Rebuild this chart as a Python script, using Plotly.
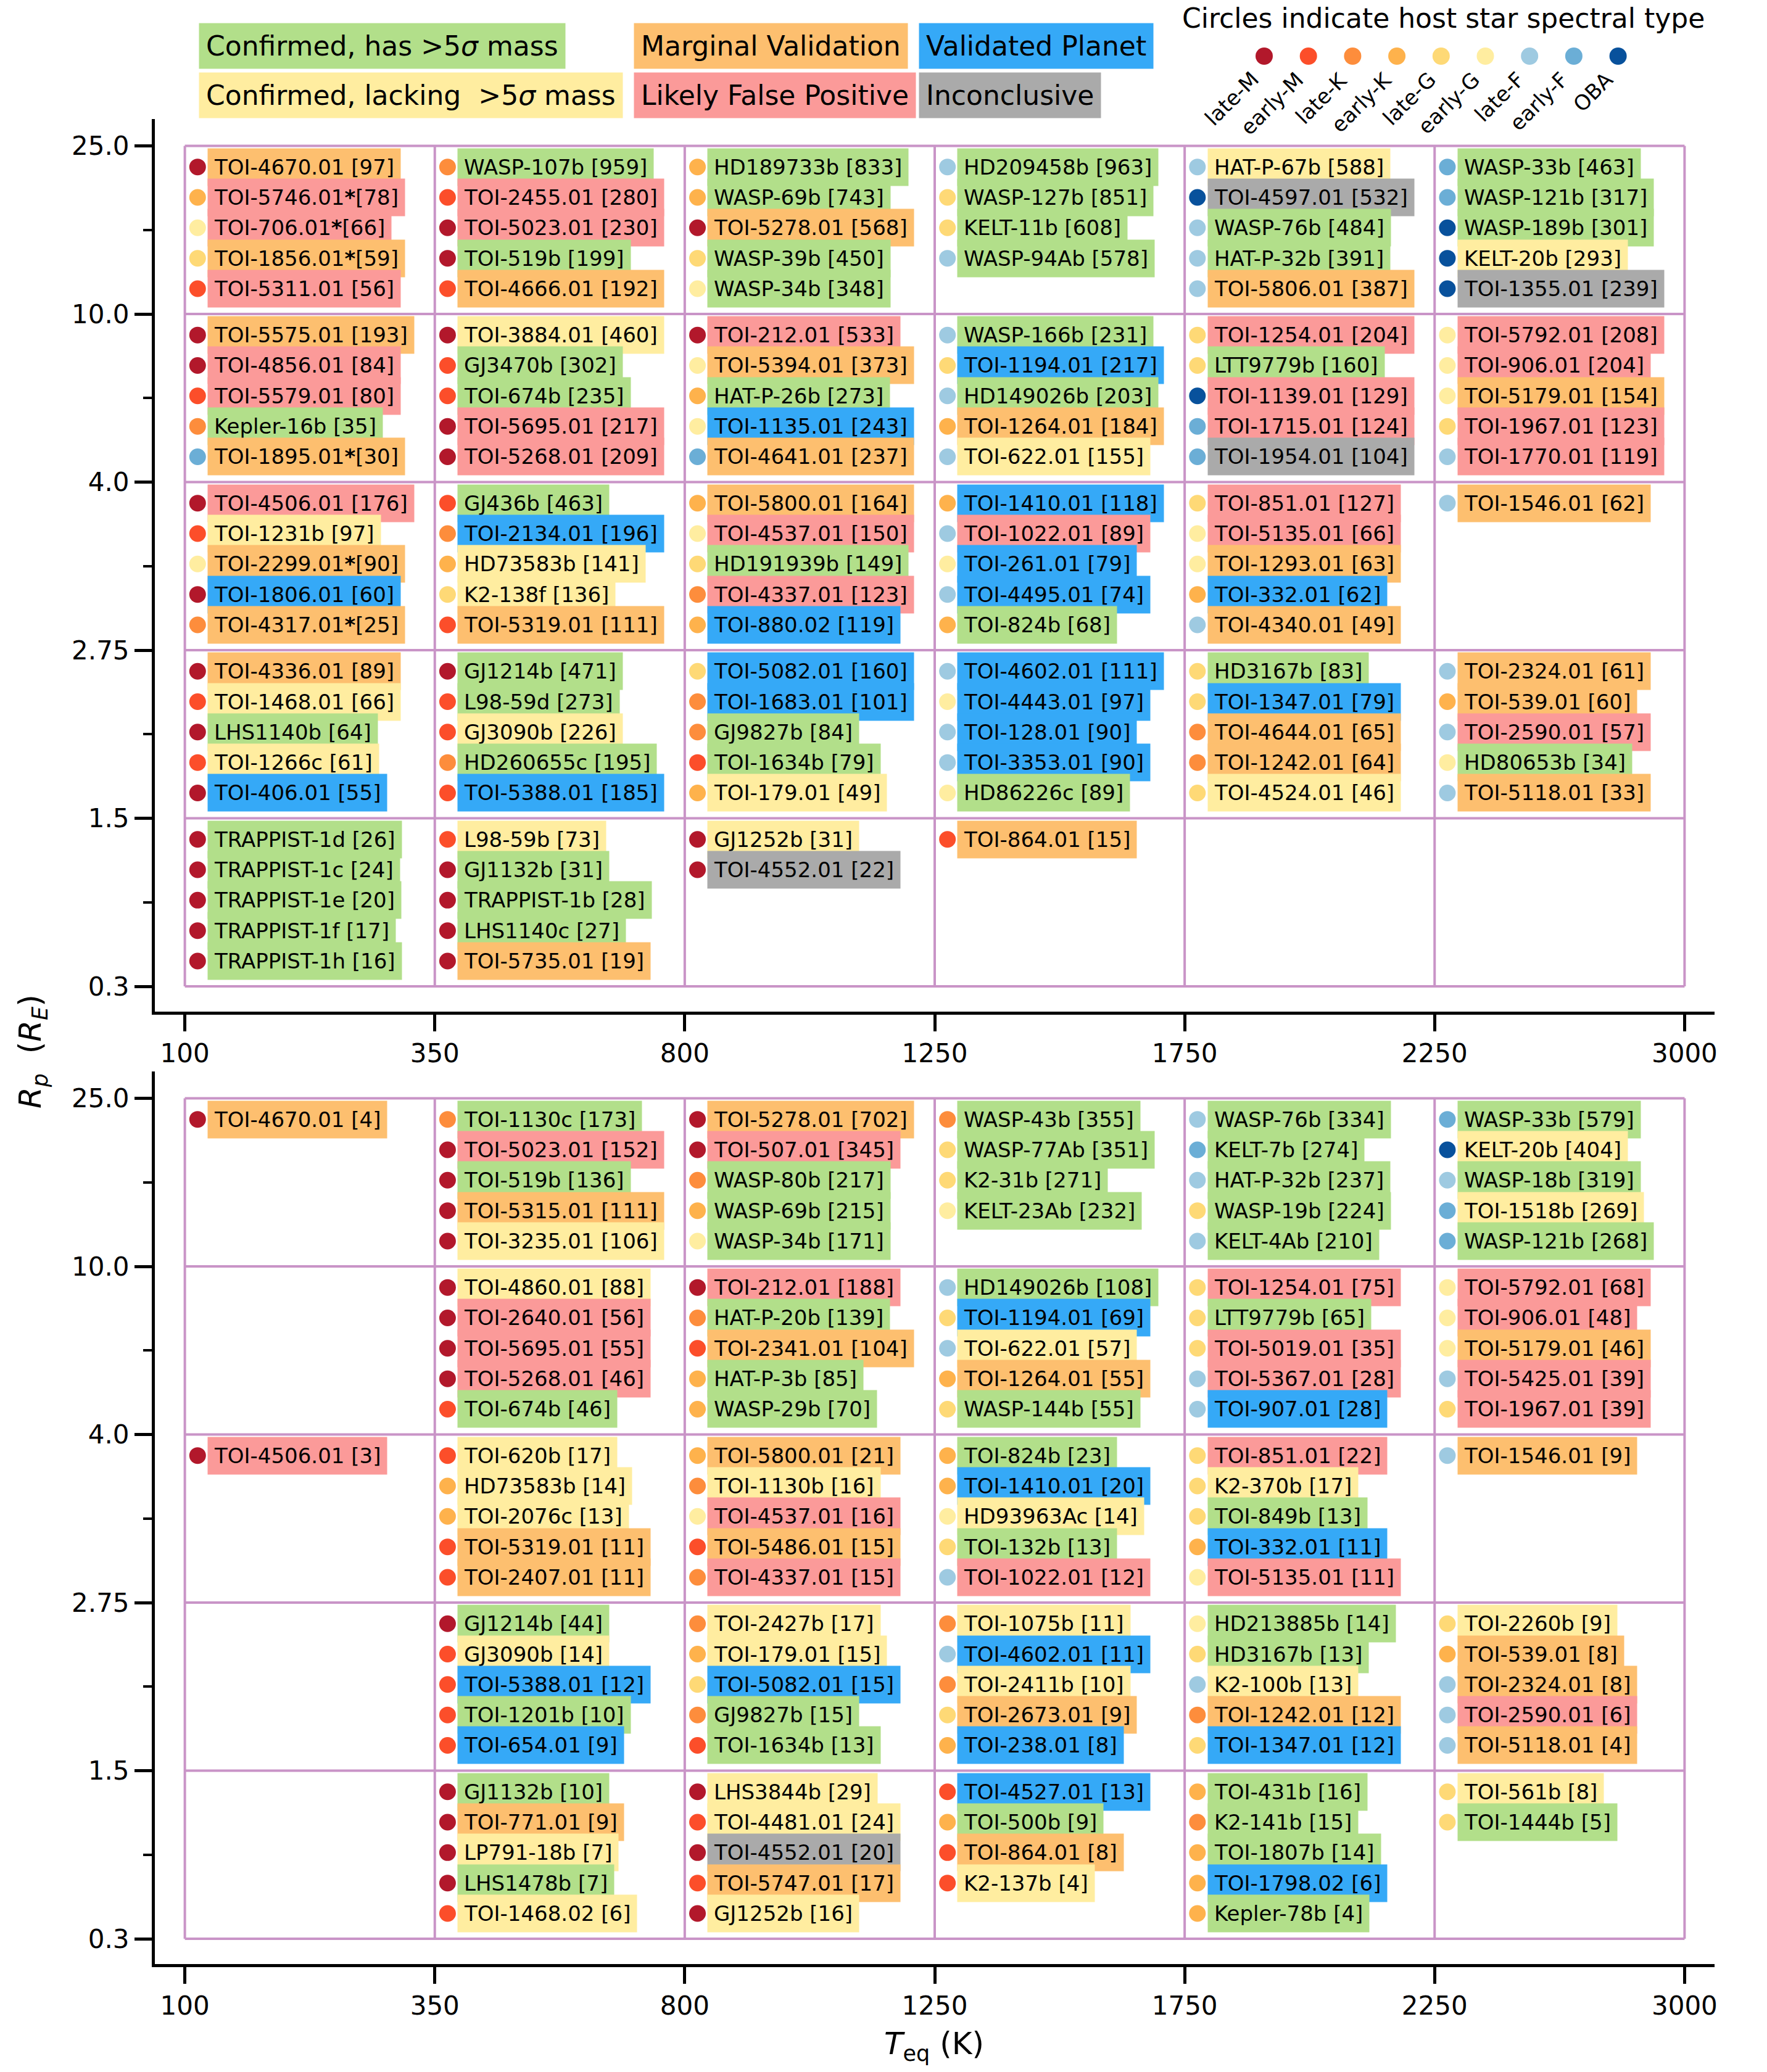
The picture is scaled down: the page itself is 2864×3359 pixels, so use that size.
import plotly.graph_objects as go

#%% bins and keys

TEQ_EDGES = [100, 350, 800, 1250, 1750, 2250, 3000]
RP_EDGES = [0.3, 1.5, 2.75, 4.0, 10.0, 25.0]
RP_LABELS = ["0.3", "1.5", "2.75", "4.0", "10.0", "25.0"]

STAR_CODES = ["lM", "eM", "lK", "eK", "lG", "eG", "lF", "eF", "OBA"]
STAR_LABELS = ["late-M", "early-M", "late-K", "early-K", "late-G", "early-G", "late-F", "early-F", "OBA"]
STAR_COLORS = ["#b2182b", "#fc4e2a", "#fd8d3c", "#feb24c", "#fed976", "#ffeda0", "#9ecae1", "#6baed6", "#08519c"]

STATUS_CODES = ["C", "L", "M", "F", "V", "I"]
STATUS_LABELS = ["Confirmed, has &gt;5<i>σ</i> mass", "Confirmed, lacking  &gt;5<i>σ</i> mass",
                 "Marginal Validation", "Likely False Positive", "Validated Planet", "Inconclusive"]
STATUS_COLORS = ["#b2df8a", "#ffeda0", "#fdbf6f", "#fb9a99", "#35a9f7", "#aaaaaa"]

#%% top panel

TOP_CELLS = [(100, 10.0), (100, 4.0), (100, 2.75), (100, 1.5), (100, 0.3),
             (350, 10.0), (350, 4.0), (350, 2.75), (350, 1.5), (350, 0.3),
             (800, 10.0), (800, 4.0), (800, 2.75), (800, 1.5), (800, 0.3),
             (1250, 10.0), (1250, 4.0), (1250, 2.75), (1250, 1.5), (1250, 0.3),
             (1750, 10.0), (1750, 4.0), (1750, 2.75), (1750, 1.5),
             (2250, 10.0), (2250, 4.0), (2250, 2.75), (2250, 1.5)]
TOP_NAMES = [
    ["TOI-4670.01", "TOI-5746.01*", "TOI-706.01*", "TOI-1856.01*", "TOI-5311.01"],
    ["TOI-5575.01", "TOI-4856.01", "TOI-5579.01", "Kepler-16b", "TOI-1895.01*"],
    ["TOI-4506.01", "TOI-1231b", "TOI-2299.01*", "TOI-1806.01", "TOI-4317.01*"],
    ["TOI-4336.01", "TOI-1468.01", "LHS1140b", "TOI-1266c", "TOI-406.01"],
    ["TRAPPIST-1d", "TRAPPIST-1c", "TRAPPIST-1e", "TRAPPIST-1f", "TRAPPIST-1h"],
    ["WASP-107b", "TOI-2455.01", "TOI-5023.01", "TOI-519b", "TOI-4666.01"],
    ["TOI-3884.01", "GJ3470b", "TOI-674b", "TOI-5695.01", "TOI-5268.01"],
    ["GJ436b", "TOI-2134.01", "HD73583b", "K2-138f", "TOI-5319.01"],
    ["GJ1214b", "L98-59d", "GJ3090b", "HD260655c", "TOI-5388.01"],
    ["L98-59b", "GJ1132b", "TRAPPIST-1b", "LHS1140c", "TOI-5735.01"],
    ["HD189733b", "WASP-69b", "TOI-5278.01", "WASP-39b", "WASP-34b"],
    ["TOI-212.01", "TOI-5394.01", "HAT-P-26b", "TOI-1135.01", "TOI-4641.01"],
    ["TOI-5800.01", "TOI-4537.01", "HD191939b", "TOI-4337.01", "TOI-880.02"],
    ["TOI-5082.01", "TOI-1683.01", "GJ9827b", "TOI-1634b", "TOI-179.01"],
    ["GJ1252b", "TOI-4552.01"],
    ["HD209458b", "WASP-127b", "KELT-11b", "WASP-94Ab"],
    ["WASP-166b", "TOI-1194.01", "HD149026b", "TOI-1264.01", "TOI-622.01"],
    ["TOI-1410.01", "TOI-1022.01", "TOI-261.01", "TOI-4495.01", "TOI-824b"],
    ["TOI-4602.01", "TOI-4443.01", "TOI-128.01", "TOI-3353.01", "HD86226c"],
    ["TOI-864.01"],
    ["HAT-P-67b", "TOI-4597.01", "WASP-76b", "HAT-P-32b", "TOI-5806.01"],
    ["TOI-1254.01", "LTT9779b", "TOI-1139.01", "TOI-1715.01", "TOI-1954.01"],
    ["TOI-851.01", "TOI-5135.01", "TOI-1293.01", "TOI-332.01", "TOI-4340.01"],
    ["HD3167b", "TOI-1347.01", "TOI-4644.01", "TOI-1242.01", "TOI-4524.01"],
    ["WASP-33b", "WASP-121b", "WASP-189b", "KELT-20b", "TOI-1355.01"],
    ["TOI-5792.01", "TOI-906.01", "TOI-5179.01", "TOI-1967.01", "TOI-1770.01"],
    ["TOI-1546.01"],
    ["TOI-2324.01", "TOI-539.01", "TOI-2590.01", "HD80653b", "TOI-5118.01"],
]
TOP_VALUES = [
    [97, 78, 66, 59, 56], [193, 84, 80, 35, 30], [176, 97, 90, 60, 25], [89, 66, 64, 61, 55], [26, 24, 20, 17, 16],
    [959, 280, 230, 199, 192], [460, 302, 235, 217, 209], [463, 196, 141, 136, 111], [471, 273, 226, 195, 185], [73, 31, 28, 27, 19],
    [833, 743, 568, 450, 348], [533, 373, 273, 243, 237], [164, 150, 149, 123, 119], [160, 101, 84, 79, 49], [31, 22],
    [963, 851, 608, 578], [231, 217, 203, 184, 155], [118, 89, 79, 74, 68], [111, 97, 90, 90, 89], [15],
    [588, 532, 484, 391, 387], [204, 160, 129, 124, 104], [127, 66, 63, 62, 49], [83, 79, 65, 64, 46],
    [463, 317, 301, 293, 239], [208, 204, 154, 123, 119], [62], [61, 60, 57, 34, 33],
]
TOP_STARS = [
    ["lM", "eK", "eG", "lG", "eM"], ["lM", "lM", "eM", "lK", "eF"], ["lM", "eM", "eG", "lM", "lK"], ["lM", "eM", "lM", "eM", "lM"], ["lM"] * 5,
    ["lK", "eM", "lM", "lM", "eM"], ["lM", "eM", "eM", "lM", "lM"], ["eM", "lK", "eK", "lG", "eM"], ["lM", "eM", "eM", "lK", "eM"], ["eM", "lM", "lM", "lM", "lM"],
    ["eK", "eK", "lM", "lG", "eG"], ["lM", "eG", "eK", "eG", "eF"], ["eK", "eG", "lG", "lK", "eK"], ["lG", "lK", "lK", "eM", "eK"], ["lM", "lM"],
    ["lF", "lG", "lG", "lF"], ["lF", "lG", "lF", "eK", "lF"], ["eK", "lF", "eG", "lF", "eK"], ["lF", "eG", "lF", "lF", "eG"], ["eM"],
    ["lF", "OBA", "lF", "lF", "lF"], ["lG", "lG", "OBA", "eF", "eF"], ["lG", "eG", "eG", "eK", "lF"], ["lG", "lG", "lK", "lK", "lG"],
    ["eF", "eF", "OBA", "OBA", "OBA"], ["eG", "eG", "eG", "lG", "lF"], ["lF"], ["lF", "eK", "lF", "eG", "lF"],
]
TOP_STATUS = [
    ["M", "F", "F", "M", "F"], ["M", "F", "F", "C", "M"], ["F", "L", "M", "V", "M"], ["M", "L", "C", "L", "V"], ["C"] * 5,
    ["C", "F", "F", "C", "M"], ["L", "C", "C", "F", "F"], ["C", "V", "L", "L", "M"], ["C", "C", "L", "C", "V"], ["L", "C", "C", "C", "M"],
    ["C", "C", "M", "C", "C"], ["F", "M", "C", "V", "M"], ["M", "F", "C", "F", "V"], ["V", "V", "C", "C", "L"], ["L", "I"],
    ["C", "C", "C", "C"], ["C", "V", "C", "M", "L"], ["V", "F", "V", "V", "C"], ["V", "V", "V", "V", "C"], ["M"],
    ["L", "I", "C", "C", "M"], ["F", "C", "F", "F", "I"], ["F", "F", "M", "V", "M"], ["C", "V", "M", "M", "L"],
    ["C", "C", "C", "L", "I"], ["F", "F", "M", "F", "F"], ["M"], ["M", "M", "F", "C", "M"],
]

#%% bottom panel

BOT_CELLS = [(100, 10.0), (100, 2.75),
             (350, 10.0), (350, 4.0), (350, 2.75), (350, 1.5), (350, 0.3),
             (800, 10.0), (800, 4.0), (800, 2.75), (800, 1.5), (800, 0.3),
             (1250, 10.0), (1250, 4.0), (1250, 2.75), (1250, 1.5), (1250, 0.3),
             (1750, 10.0), (1750, 4.0), (1750, 2.75), (1750, 1.5), (1750, 0.3),
             (2250, 10.0), (2250, 4.0), (2250, 2.75), (2250, 1.5), (2250, 0.3)]
BOT_NAMES = [
    ["TOI-4670.01"], ["TOI-4506.01"],
    ["TOI-1130c", "TOI-5023.01", "TOI-519b", "TOI-5315.01", "TOI-3235.01"],
    ["TOI-4860.01", "TOI-2640.01", "TOI-5695.01", "TOI-5268.01", "TOI-674b"],
    ["TOI-620b", "HD73583b", "TOI-2076c", "TOI-5319.01", "TOI-2407.01"],
    ["GJ1214b", "GJ3090b", "TOI-5388.01", "TOI-1201b", "TOI-654.01"],
    ["GJ1132b", "TOI-771.01", "LP791-18b", "LHS1478b", "TOI-1468.02"],
    ["TOI-5278.01", "TOI-507.01", "WASP-80b", "WASP-69b", "WASP-34b"],
    ["TOI-212.01", "HAT-P-20b", "TOI-2341.01", "HAT-P-3b", "WASP-29b"],
    ["TOI-5800.01", "TOI-1130b", "TOI-4537.01", "TOI-5486.01", "TOI-4337.01"],
    ["TOI-2427b", "TOI-179.01", "TOI-5082.01", "GJ9827b", "TOI-1634b"],
    ["LHS3844b", "TOI-4481.01", "TOI-4552.01", "TOI-5747.01", "GJ1252b"],
    ["WASP-43b", "WASP-77Ab", "K2-31b", "KELT-23Ab"],
    ["HD149026b", "TOI-1194.01", "TOI-622.01", "TOI-1264.01", "WASP-144b"],
    ["TOI-824b", "TOI-1410.01", "HD93963Ac", "TOI-132b", "TOI-1022.01"],
    ["TOI-1075b", "TOI-4602.01", "TOI-2411b", "TOI-2673.01", "TOI-238.01"],
    ["TOI-4527.01", "TOI-500b", "TOI-864.01", "K2-137b"],
    ["WASP-76b", "KELT-7b", "HAT-P-32b", "WASP-19b", "KELT-4Ab"],
    ["TOI-1254.01", "LTT9779b", "TOI-5019.01", "TOI-5367.01", "TOI-907.01"],
    ["TOI-851.01", "K2-370b", "TOI-849b", "TOI-332.01", "TOI-5135.01"],
    ["HD213885b", "HD3167b", "K2-100b", "TOI-1242.01", "TOI-1347.01"],
    ["TOI-431b", "K2-141b", "TOI-1807b", "TOI-1798.02", "Kepler-78b"],
    ["WASP-33b", "KELT-20b", "WASP-18b", "TOI-1518b", "WASP-121b"],
    ["TOI-5792.01", "TOI-906.01", "TOI-5179.01", "TOI-5425.01", "TOI-1967.01"],
    ["TOI-1546.01"],
    ["TOI-2260b", "TOI-539.01", "TOI-2324.01", "TOI-2590.01", "TOI-5118.01"],
    ["TOI-561b", "TOI-1444b"],
]
BOT_VALUES = [
    [4], [3],
    [173, 152, 136, 111, 106], [88, 56, 55, 46, 46], [17, 14, 13, 11, 11], [44, 14, 12, 10, 9], [10, 9, 7, 7, 6],
    [702, 345, 217, 215, 171], [188, 139, 104, 85, 70], [21, 16, 16, 15, 15], [17, 15, 15, 15, 13], [29, 24, 20, 17, 16],
    [355, 351, 271, 232], [108, 69, 57, 55, 55], [23, 20, 14, 13, 12], [11, 11, 10, 9, 8], [13, 9, 8, 4],
    [334, 274, 237, 224, 210], [75, 65, 35, 28, 28], [22, 17, 13, 11, 11], [14, 13, 13, 12, 12], [16, 15, 14, 6, 4],
    [579, 404, 319, 269, 268], [68, 48, 46, 39, 39], [9], [9, 8, 8, 6, 4], [8, 5],
]
BOT_STARS = [
    ["lM"], ["lM"],
    ["lK", "lM", "lM", "lM", "lM"], ["lM", "lM", "lM", "lM", "eM"], ["eM", "eK", "eK", "eM", "eM"], ["lM", "eM", "eM", "eM", "eM"], ["lM", "lM", "lM", "lM", "eM"],
    ["lM", "lM", "lK", "eK", "eG"], ["lM", "lK", "eM", "eK", "eK"], ["eK", "lK", "eG", "eM", "lK"], ["lK", "eK", "lG", "lK", "eM"], ["lM", "eM", "lM", "eM", "lM"],
    ["lK", "lG", "lG", "eG"], ["lF", "lG", "lF", "eK", "lG"], ["eK", "eK", "eG", "lG", "lF"], ["lK", "lF", "lK", "lG", "eK"], ["eM", "eK", "eM", "eM"],
    ["lF", "eF", "lF", "lG", "lF"], ["lG", "lG", "lG", "lF", "lF"], ["lG", "lG", "lG", "eK", "eG"], ["eG", "lG", "lF", "lK", "lG"], ["eK", "lK", "eK", "eK", "eK"],
    ["eF", "OBA", "lF", "eF", "eF"], ["eG", "eG", "eG", "lF", "lG"], ["lF"], ["lG", "eK", "lF", "lF", "lF"], ["lG", "lG"],
]
BOT_STATUS = [
    ["M"], ["F"],
    ["C", "F", "C", "M", "L"], ["L", "F", "F", "F", "C"], ["L", "L", "L", "M", "M"], ["C", "L", "V", "C", "V"], ["C", "M", "L", "C", "L"],
    ["M", "F", "C", "C", "C"], ["F", "C", "M", "C", "C"], ["M", "L", "F", "M", "F"], ["L", "L", "V", "C", "C"], ["L", "L", "I", "M", "L"],
    ["C", "C", "C", "C"], ["C", "V", "L", "M", "C"], ["C", "V", "L", "C", "F"], ["L", "V", "L", "M", "V"], ["V", "C", "M", "L"],
    ["C", "C", "C", "C", "C"], ["F", "C", "F", "F", "V"], ["F", "L", "C", "V", "F"], ["C", "C", "L", "M", "V"], ["C", "C", "C", "V", "C"],
    ["C", "L", "C", "L", "C"], ["F", "F", "M", "F", "F"], ["M"], ["L", "M", "M", "F", "M"], ["L", "C"],
]

#%% layout constants (pixels of the 2864x3359 page)

W, H = 2864, 3359
M_L, M_R, M_T, M_B = 251, 85, 193, 175
FONT = "DejaVu Sans"

def px_x(px):
    return (px - M_L) / (W - M_L - M_R)

def px_y(py):
    return (H - M_B - py) / (H - M_T - M_B)

X_DOT, X_BOX = 0.051, 0.090
Y_FIRST, Y_STEP = 0.125, 0.181


def add_panel(fig, cells, names, values, stars, statuses, xa, ya):
	xs, ys, cols = [], [], []
	for (teq, rp), nm, vv, st, ss in zip(cells, names, values, stars, statuses):
		ci = TEQ_EDGES.index(teq)
		ri = RP_EDGES.index(rp)
		for k, (n, v, s, q) in enumerate(zip(nm, vv, st, ss)):
			y = ri + 1 - Y_FIRST - k * Y_STEP
			xs.append(ci + X_DOT)
			ys.append(y)
			cols.append(STAR_COLORS[STAR_CODES.index(s)])
			if n.endswith("*"):
				# flagged targets: raised asterisk, no space before the bracket
				label = n[:-1] + "<b>*</b>[{}]".format(v)
			else:
				label = "{} [{}]".format(n, v)
			fig.add_annotation(x=ci + X_BOX, y=y, xref=xa, yref=ya, text=label,
			                   xanchor="left", yanchor="middle", showarrow=False,
			                   bgcolor=STATUS_COLORS[STATUS_CODES.index(q)], borderpad=10,
			                   font=dict(size=34, color="black", family=FONT))
	fig.add_trace(go.Scatter(x=xs, y=ys, mode="markers", xaxis=xa, yaxis=ya,
	                         marker=dict(size=27, color=cols, line=dict(width=0)),
	                         hoverinfo="skip", showlegend=False))
	# purple cell grid
	nx, ny = len(TEQ_EDGES) - 1, len(RP_EDGES) - 1
	for i in range(nx + 1):
		fig.add_shape(type="line", xref=xa, yref=ya, x0=i, x1=i, y0=0, y1=ny,
		              line=dict(color="#c994c7", width=4), layer="below")
	for j in range(ny + 1):
		fig.add_shape(type="line", xref=xa, yref=ya, x0=0, x1=nx, y0=j, y1=j,
		              line=dict(color="#c994c7", width=4), layer="below")


fig = go.Figure()
add_panel(fig, TOP_CELLS, TOP_NAMES, TOP_VALUES, TOP_STARS, TOP_STATUS, "x", "y")
add_panel(fig, BOT_CELLS, BOT_NAMES, BOT_VALUES, BOT_STARS, BOT_STATUS, "x2", "y2")

xax = dict(range=[-0.12, 6.12], tickmode="array", tickvals=list(range(len(TEQ_EDGES))),
           ticktext=[str(t) for t in TEQ_EDGES], showline=True, linewidth=5, linecolor="black",
           ticks="outside", ticklen=27, tickwidth=5, tickcolor="black", showgrid=False,
           zeroline=False, tickfont=dict(size=42, color="black", family=FONT))
yax = dict(range=[-0.15, 5.16], tickmode="array", tickvals=list(range(len(RP_EDGES))),
           ticktext=RP_LABELS, showline=True, linewidth=5, linecolor="black",
           ticks="outside", ticklen=28, tickwidth=5, tickcolor="black", showgrid=False,
           zeroline=False, tickfont=dict(size=42, color="black", family=FONT),
           minor=dict(tickmode="array", tickvals=[j + 0.5 for j in range(len(RP_EDGES) - 1)],
                      ticks="outside", ticklen=14, tickwidth=4, tickcolor="black", showgrid=False))

top_bottom = px_y(1640)
bot_top = px_y(1737)
fig.update_layout(
	xaxis=dict(xax, domain=[0, 1], anchor="y"),
	yaxis=dict(yax, domain=[top_bottom, 1], anchor="x"),
	xaxis2=dict(xax, domain=[0, 1], anchor="y2"),
	yaxis2=dict(yax, domain=[0, bot_top], anchor="x2"),
	width=W, height=H,
	margin=dict(l=M_L, r=M_R, t=M_T, b=M_B),
	paper_bgcolor="white", plot_bgcolor="white",
	font=dict(family=FONT, color="black"),
	showlegend=False,
)

# status legend boxes
leg_x = [322, 322, 1027, 1027, 1489, 1489]
leg_y = [75, 155, 75, 155, 75, 155]
for lab, col, lx, ly in zip(STATUS_LABELS, STATUS_COLORS, leg_x, leg_y):
	fig.add_annotation(x=px_x(lx), y=px_y(ly), xref="paper", yref="paper", text=lab,
	                   xanchor="left", yanchor="middle", showarrow=False, bgcolor=col,
	                   borderpad=11, font=dict(size=44, color="black", family=FONT))

# spectral type legend
fig.add_annotation(x=px_x(1914), y=px_y(30), xref="paper", yref="paper",
                   text="Circles indicate host star spectral type", xanchor="left",
                   yanchor="middle", showarrow=False, font=dict(size=44, color="black", family=FONT))
for k, (lab, col) in enumerate(zip(STAR_LABELS, STAR_COLORS)):
	cx = 2049 + k * 71.7
	fig.add_shape(type="circle", xref="paper", yref="paper", xsizemode="pixel", ysizemode="pixel",
	              xanchor=px_x(cx), yanchor=px_y(91), x0=-14, x1=14, y0=-14, y1=14,
	              fillcolor=col, line=dict(width=0))
	fig.add_annotation(x=px_x(cx + 2), y=px_y(106), xref="paper", yref="paper", text=lab,
	                   textangle=-45, xanchor="right", yanchor="top", showarrow=False,
	                   font=dict(size=34, color="black", family=FONT))

# axis labels
fig.add_annotation(x=px_x(52), y=px_y(1705), xref="paper", yref="paper",
                   text="<i>R</i><sub><i>p</i></sub>  (<i>R</i><sub><i>E</i></sub>)",
                   textangle=-90, xanchor="center", yanchor="middle", showarrow=False,
                   font=dict(size=50, color="black", family=FONT))
fig.add_annotation(x=px_x(1514), y=px_y(3316), xref="paper", yref="paper",
                   text="<i>T</i><sub>eq</sub> (K)", xanchor="center", yanchor="middle",
                   showarrow=False, font=dict(size=50, color="black", family=FONT))

fig.write_html("out.html", config={"displayModeBar": False},
               post_script="document.body.style.margin='0';")
